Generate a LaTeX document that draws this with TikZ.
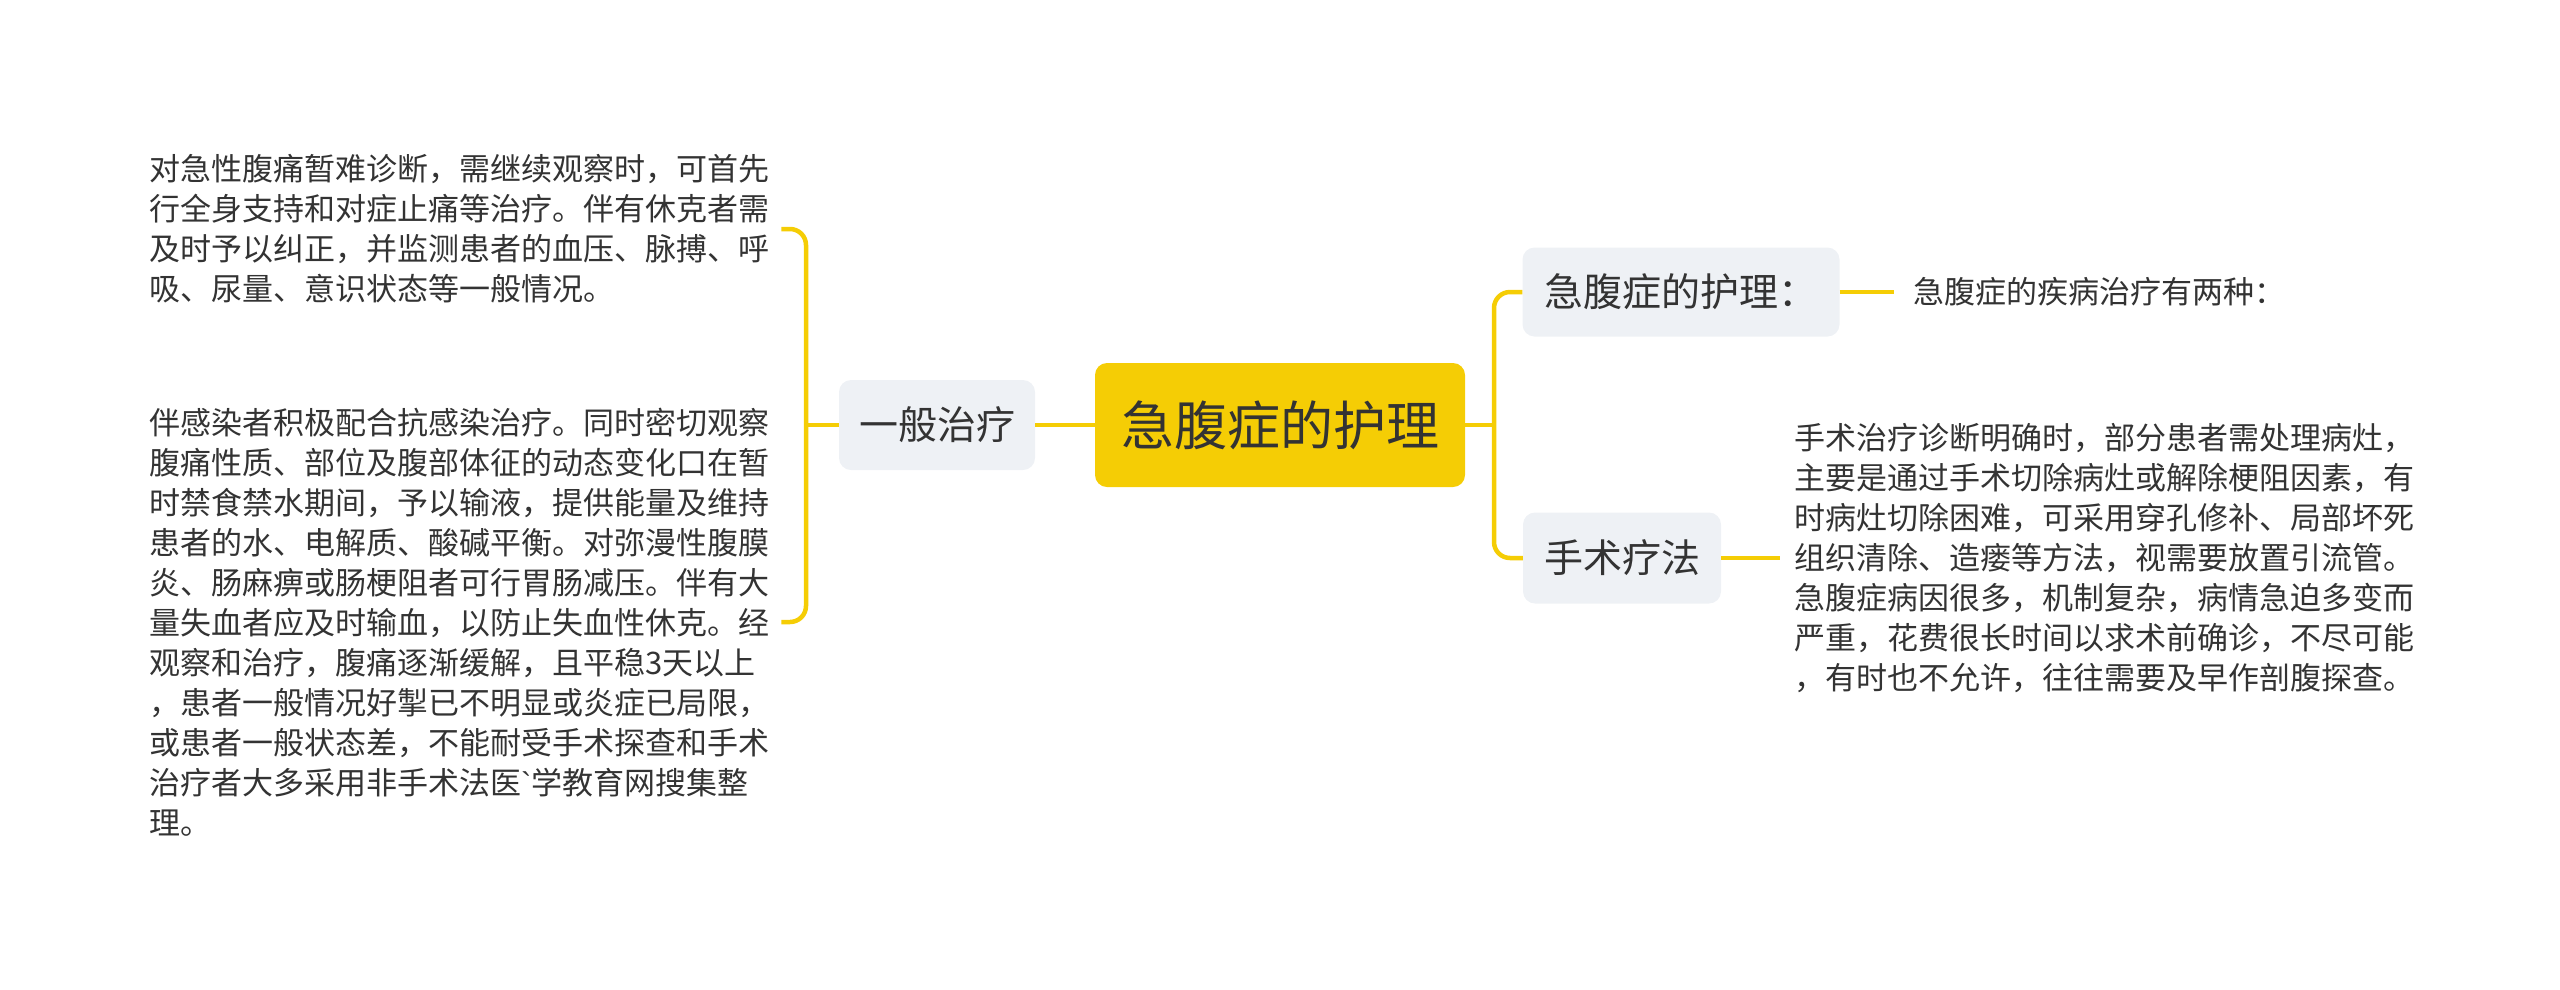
\documentclass[tikz,border=0pt]{standalone}
\usepackage{fontspec}
\setmainfont{Noto Sans CJK SC}
\newfontfamily\latinfont{Liberation Sans}
\usepackage{tikz}

\definecolor{mapyellow}{HTML}{F5CD05}
\definecolor{mapgray}{HTML}{EEF1F5}
\definecolor{mapink}{HTML}{333333}

\begin{document}
\begin{tikzpicture}[x=1pt,y=-1pt,
  link/.style={draw=mapyellow,line width=4.5pt,rounded corners=16pt},
  topic/.style={fill=mapgray,rounded corners=12pt,text=mapink,inner sep=0pt,
    font=\fontsize{39}{47}\selectfont},
  note/.style={text=mapink,inner sep=0pt,align=left,anchor=west,
    font=\fontsize{31}{40}\selectfont}]
\useasboundingbox (0,0) rectangle (2560,989);

\node[fill=mapyellow,rounded corners=12pt,text=mapink,inner sep=0pt,
  minimum width=370pt,minimum height=124pt,font=\fontsize{53}{60}\selectfont]
  (root) at (1280,425) {急腹症的护理};

\node[topic,minimum width=196pt,minimum height=90pt] (general) at (937,425) {一般治疗};
\node[topic,minimum width=317pt,minimum height=89pt] (care) at (1681,292) {急腹症的护理：};
\node[topic,minimum width=198pt,minimum height=91pt] (surgery) at (1622,558) {手术疗法};

\node[note] (genTop) at (149,229)
{对急性腹痛暂难诊断，需继续观察时，可首先\\
行全身支持和对症止痛等治疗。伴有休克者需\\
及时予以纠正，并监测患者的血压、脉搏、呼\\
吸、尿量、意识状态等一般情况。};
\node[note] (genBottom) at (149,622)
{伴感染者积极配合抗感染治疗。同时密切观察\\
腹痛性质、部位及腹部体征的动态变化口在暂\\
时禁食禁水期间，予以输液，提供能量及维持\\
患者的水、电解质、酸碱平衡。对弥漫性腹膜\\
炎、肠麻痹或肠梗阻者可行胃肠减压。伴有大\\
量失血者应及时输血，以防止失血性休克。经\\
观察和治疗，腹痛逐渐缓解，且平稳3天以上\\
，患者一般情况好掣已不明显或炎症已局限，\\
或患者一般状态差，不能耐受手术探查和手术\\
治疗者大多采用非手术法医{\latinfont\char96}学教育网搜集整\\
理。};
\node[note] (careText) at (1913,292) {急腹症的疾病治疗有两种：};
\node[note] (surgeryText) at (1794,558)
{手术治疗诊断明确时，部分患者需处理病灶，\\
主要是通过手术切除病灶或解除梗阻因素，有\\
时病灶切除困难，可采用穿孔修补、局部坏死\\
组织清除、造瘘等方法，视需要放置引流管。\\
急腹症病因很多，机制复杂，病情急迫多变而\\
严重，花费很长时间以求术前确诊，不尽可能\\
，有时也不允许，往往需要及早作剖腹探查。};

\coordinate (jl) at (806,425);
\coordinate (jr) at (1494,425);

\draw[link] (root.west) -- (general.east);
\draw[link] (general.west) -- (jl);
\draw[link] ([xshift=12pt]genTop.east) -| (jl) |- ([xshift=12pt]genBottom.east);
\draw[link] (root.east) -- (jr);
\draw[link] (care.west) -| (jr) |- (surgery.west);
\draw[link] (care.east) -- ([xshift=-19pt]careText.west);
\draw[link] (surgery.east) -- ([xshift=-14pt]surgeryText.west);
\end{tikzpicture}
\end{document}
